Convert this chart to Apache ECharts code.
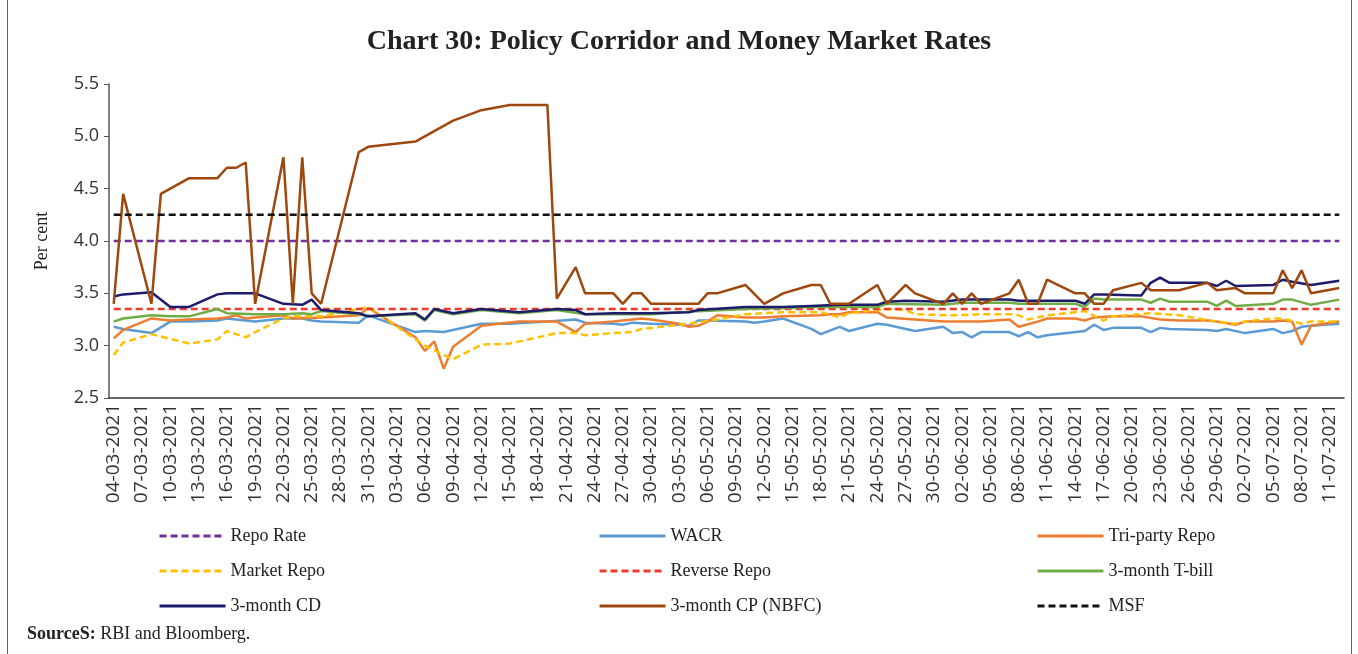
<!DOCTYPE html>
<html>
<head>
<meta charset="utf-8">
<script src="https://cdn.jsdelivr.net/npm/echarts@6/dist/echarts.min.js"></script>
<style>
  html, body { margin: 0; padding: 0; background: #fff; }
  #chart { width: 1358px; height: 654px; }
</style>
</head>
<body>
<div id="chart"></div>
<script>
// policy rates (flat over the whole period)
const repoRate = 4.0;
const reverseRepoRate = 3.35;
const msfRate = 4.25;

// daily money market rates, [dd-mm, per cent]
const wacr = [
  ['04-03', 3.18], ['05-03', 3.16], ['08-03', 3.12], ['10-03', 3.23], ['12-03', 3.23],
  ['15-03', 3.24], ['16-03', 3.26], ['17-03', 3.25], ['19-03', 3.23], ['22-03', 3.26],
  ['24-03', 3.26], ['25-03', 3.24], ['26-03', 3.23], ['30-03', 3.22], ['31-03', 3.29],
  ['05-04', 3.13], ['06-04', 3.14], ['08-04', 3.13], ['12-04', 3.21], ['15-04', 3.21],
  ['19-04', 3.23], ['22-04', 3.25], ['23-04', 3.22], ['26-04', 3.21], ['27-04', 3.20],
  ['28-04', 3.22], ['30-04', 3.21], ['03-05', 3.20], ['04-05', 3.19], ['05-05', 3.24],
  ['06-05', 3.24], ['10-05', 3.23], ['11-05', 3.22], ['12-05', 3.23], ['14-05', 3.26],
  ['17-05', 3.16], ['18-05', 3.11], ['20-05', 3.18], ['21-05', 3.14], ['24-05', 3.21],
  ['25-05', 3.20], ['28-05', 3.14], ['31-05', 3.18], ['01-06', 3.12], ['02-06', 3.13],
  ['03-06', 3.08], ['04-06', 3.13], ['07-06', 3.13], ['08-06', 3.09], ['09-06', 3.13],
  ['10-06', 3.08], ['11-06', 3.10], ['15-06', 3.14], ['16-06', 3.20], ['17-06', 3.15],
  ['18-06', 3.17], ['21-06', 3.17], ['22-06', 3.13], ['23-06', 3.17], ['24-06', 3.16],
  ['28-06', 3.15], ['29-06', 3.14], ['30-06', 3.16], ['02-07', 3.12], ['05-07', 3.16],
  ['06-07', 3.12], ['07-07', 3.14], ['08-07', 3.18], ['09-07', 3.19], ['12-07', 3.21]
];

const triParty = [
  ['04-03', 3.07], ['05-03', 3.15], ['08-03', 3.26], ['10-03', 3.24], ['12-03', 3.25],
  ['15-03', 3.26], ['16-03', 3.27], ['17-03', 3.29], ['18-03', 3.26], ['19-03', 3.27],
  ['22-03', 3.29], ['23-03', 3.26], ['26-03', 3.27], ['30-03', 3.29], ['31-03', 3.36],
  ['05-04', 3.08], ['06-04', 2.95], ['07-04', 3.04], ['08-04', 2.78], ['09-04', 2.99],
  ['12-04', 3.19], ['16-04', 3.23], ['20-04', 3.23], ['22-04', 3.13], ['23-04', 3.21],
  ['26-04', 3.23], ['29-04', 3.26], ['30-04', 3.25], ['03-05', 3.21], ['04-05', 3.18],
  ['05-05', 3.19], ['06-05', 3.23], ['07-05', 3.29], ['10-05', 3.27], ['12-05', 3.27],
  ['14-05', 3.28], ['18-05', 3.29], ['19-05', 3.30], ['20-05', 3.30], ['21-05', 3.32],
  ['24-05', 3.32], ['25-05', 3.27], ['31-05', 3.23], ['04-06', 3.23], ['07-06', 3.25],
  ['08-06', 3.18], ['10-06', 3.23], ['11-06', 3.26], ['14-06', 3.26], ['15-06', 3.24],
  ['16-06', 3.27], ['18-06', 3.28], ['21-06', 3.28], ['23-06', 3.25], ['25-06', 3.24],
  ['28-06', 3.24], ['29-06', 3.23], ['01-07', 3.20], ['02-07', 3.23], ['05-07', 3.23],
  ['06-07', 3.24], ['07-07', 3.23], ['08-07', 3.01], ['09-07', 3.19], ['12-07', 3.23]
];

const marketRepo = [
  ['04-03', 2.91], ['05-03', 3.03], ['08-03', 3.11], ['12-03', 3.02], ['15-03', 3.06],
  ['16-03', 3.14], ['18-03', 3.08], ['19-03', 3.13], ['22-03', 3.26], ['23-03', 3.28],
  ['26-03', 3.28], ['30-03', 3.35], ['31-03', 3.37], ['06-04', 3.00], ['09-04', 2.87],
  ['12-04', 3.01], ['15-04', 3.02], ['20-04', 3.12], ['22-04', 3.12], ['23-04', 3.10],
  ['26-04', 3.12], ['28-04', 3.13], ['29-04', 3.16], ['04-05', 3.21], ['07-05', 3.25],
  ['10-05', 3.30], ['14-05', 3.32], ['18-05', 3.32], ['20-05', 3.27], ['21-05', 3.31],
  ['25-05', 3.35], ['27-05', 3.34], ['28-05', 3.30], ['01-06', 3.29], ['04-06', 3.30],
  ['07-06', 3.30], ['08-06', 3.29], ['09-06', 3.25], ['11-06', 3.29], ['14-06', 3.32],
  ['15-06', 3.33], ['17-06', 3.24], ['18-06', 3.28], ['22-06', 3.31], ['25-06', 3.29],
  ['29-06', 3.23], ['01-07', 3.21], ['02-07', 3.23], ['05-07', 3.26], ['06-07', 3.26],
  ['08-07', 3.21], ['09-07', 3.23], ['12-07', 3.23]
];

const tBill = [
  ['04-03', 3.23], ['05-03', 3.26], ['08-03', 3.29], ['10-03', 3.28], ['12-03', 3.28],
  ['15-03', 3.35], ['16-03', 3.31], ['19-03', 3.30], ['22-03', 3.30], ['24-03', 3.31],
  ['25-03', 3.30], ['26-03', 3.33], ['30-03', 3.30], ['31-03', 3.28], ['05-04', 3.30],
  ['06-04', 3.24], ['07-04', 3.34], ['09-04', 3.30], ['12-04', 3.34], ['16-04', 3.31],
  ['20-04', 3.34], ['23-04', 3.30], ['30-04', 3.30], ['05-05', 3.33], ['10-05', 3.35],
  ['14-05', 3.36], ['17-05', 3.37], ['20-05', 3.37], ['24-05', 3.37], ['25-05', 3.40],
  ['31-05', 3.39], ['02-06', 3.41], ['07-06', 3.41], ['08-06', 3.40], ['14-06', 3.40],
  ['15-06', 3.37], ['16-06', 3.45], ['17-06', 3.44], ['21-06', 3.44], ['22-06', 3.41],
  ['23-06', 3.45], ['24-06', 3.42], ['28-06', 3.42], ['29-06', 3.38], ['30-06', 3.43],
  ['01-07', 3.38], ['05-07', 3.40], ['06-07', 3.44], ['07-07', 3.44], ['09-07', 3.39],
  ['12-07', 3.44]
];

const cd = [
  ['04-03', 3.47], ['05-03', 3.49], ['08-03', 3.51], ['10-03', 3.37], ['12-03', 3.37],
  ['15-03', 3.49], ['16-03', 3.50], ['19-03', 3.50], ['22-03', 3.40], ['24-03', 3.39],
  ['25-03', 3.44], ['26-03', 3.34], ['30-03', 3.31], ['31-03', 3.28], ['05-04', 3.31],
  ['06-04', 3.25], ['07-04', 3.35], ['09-04', 3.31], ['12-04', 3.35], ['16-04', 3.32],
  ['20-04', 3.35], ['22-04', 3.34], ['23-04', 3.30], ['26-04', 3.31], ['30-04', 3.31],
  ['04-05', 3.32], ['05-05', 3.34], ['10-05', 3.37], ['14-05', 3.37], ['17-05', 3.38],
  ['20-05', 3.39], ['24-05', 3.39], ['25-05', 3.42], ['27-05', 3.43], ['31-05', 3.42],
  ['02-06', 3.44], ['07-06', 3.44], ['08-06', 3.43], ['10-06', 3.43], ['11-06', 3.43],
  ['14-06', 3.43], ['15-06', 3.40], ['16-06', 3.49], ['17-06', 3.49], ['21-06', 3.48],
  ['22-06', 3.60], ['23-06', 3.65], ['24-06', 3.60], ['28-06', 3.60], ['29-06', 3.57],
  ['30-06', 3.62], ['01-07', 3.57], ['05-07', 3.58], ['06-07', 3.63], ['07-07', 3.61],
  ['09-07', 3.58], ['12-07', 3.62]
];

const cpNbfc = [
  ['04-03', 3.40], ['05-03', 4.45], ['08-03', 3.40], ['09-03', 4.45], ['12-03', 4.60],
  ['15-03', 4.60], ['16-03', 4.70], ['17-03', 4.70], ['18-03', 4.75], ['19-03', 3.40],
  ['22-03', 4.80], ['23-03', 3.40], ['24-03', 4.80], ['25-03', 3.50], ['26-03', 3.40],
  ['30-03', 4.85], ['31-03', 4.90], ['05-04', 4.95], ['09-04', 5.15], ['12-04', 5.25],
  ['15-04', 5.30], ['19-04', 5.30], ['20-04', 3.45], ['22-04', 3.75], ['23-04', 3.50],
  ['26-04', 3.50], ['27-04', 3.40], ['28-04', 3.50], ['29-04', 3.50], ['30-04', 3.40],
  ['05-05', 3.40], ['06-05', 3.50], ['07-05', 3.50], ['10-05', 3.58], ['12-05', 3.40],
  ['14-05', 3.50], ['17-05', 3.58], ['18-05', 3.58], ['19-05', 3.40], ['21-05', 3.40],
  ['24-05', 3.58], ['25-05', 3.40], ['27-05', 3.58], ['28-05', 3.50], ['31-05', 3.40],
  ['01-06', 3.50], ['02-06', 3.40], ['03-06', 3.50], ['04-06', 3.40], ['07-06', 3.50],
  ['08-06', 3.63], ['09-06', 3.40], ['10-06', 3.40], ['11-06', 3.63], ['14-06', 3.50],
  ['15-06', 3.50], ['16-06', 3.40], ['17-06', 3.40], ['18-06', 3.53], ['21-06', 3.60],
  ['22-06', 3.53], ['25-06', 3.53], ['28-06', 3.60], ['29-06', 3.53], ['01-07', 3.55],
  ['02-07', 3.50], ['05-07', 3.50], ['06-07', 3.72], ['07-07', 3.55], ['08-07', 3.72],
  ['09-07', 3.50], ['12-07', 3.55]
];

// one category per calendar day, 04-03-2021 to 12-07-2021
const dates = [];
for (let t = Date.UTC(2021, 2, 4); t <= Date.UTC(2021, 6, 12); t += 86400000) {
  const d = new Date(t);
  const dd = String(d.getUTCDate()).padStart(2, '0');
  const mm = String(d.getUTCMonth() + 1).padStart(2, '0');
  dates.push(dd + '-' + mm + '-2021');
}

const toPoints = (arr) => arr.map((p) => [p[0] + '-2021', p[1]]);
const flat = (v) => dates.map((d) => [d, v]);

const serif = 'Liberation Serif';
const sans = 'Open Sans';

function line(name, data, color, dashed) {
  return {
    name: name,
    type: 'line',
    data: data,
    symbol: 'none',
    animation: false,
    lineStyle: {
      color: color,
      width: 2.5,
      type: dashed ? [7, 4] : 'solid'
    },
    itemStyle: { color: color }
  };
}

function legendCol(left, names) {
  return {
    orient: 'vertical',
    left: left,
    top: 522,
    data: names,
    itemWidth: 66,
    itemHeight: 14,
    itemGap: 17,
    itemStyle: { opacity: 0 },
    lineStyle: { width: 3 },
    textStyle: { fontFamily: serif, fontSize: 18, color: '#222' }
  };
}

const chart = echarts.init(document.getElementById('chart'));
chart.setOption({
  backgroundColor: '#fff',
  title: {
    text: 'Chart 30: Policy Corridor and Money Market Rates',
    left: 'center',
    top: 23,
    textStyle: { fontFamily: serif, fontWeight: 'bold', fontSize: 28, color: '#222' }
  },
  grid: { left: 109, right: 14, top: 84, bottom: 256 },
  legend: [
    legendCol(153, ['Repo Rate', 'Market Repo', '3-month CD']),
    legendCol(593, ['WACR', 'Reverse Repo', '3-month CP (NBFC)']),
    legendCol(1031, ['Tri-party Repo', '3-month T-bill', 'MSF'])
  ],
  xAxis: {
    type: 'category',
    data: dates,
    boundaryGap: true,
    axisLine: { lineStyle: { color: '#333', width: 1.5 } },
    axisTick: { interval: 2, length: 5, lineStyle: { color: '#333' } },
    axisLabel: {
      interval: 2,
      rotate: 90,
      margin: 6,
      fontFamily: sans,
      fontSize: 19,
      color: '#333'
    },
    splitLine: { show: false }
  },
  yAxis: {
    type: 'value',
    min: 2.5,
    max: 5.5,
    interval: 0.5,
    name: 'Per cent',
    nameLocation: 'middle',
    nameGap: 58,
    nameTextStyle: { fontFamily: serif, fontSize: 18, color: '#222' },
    axisLine: { show: true, lineStyle: { color: '#555', width: 1.5 } },
    axisTick: { show: true, length: 5, lineStyle: { color: '#555' } },
    axisLabel: {
      margin: 10,
      fontFamily: sans,
      fontSize: 18,
      color: '#333',
      formatter: (v) => v.toFixed(1)
    },
    splitLine: { show: false }
  },
  series: [
    line('Repo Rate', flat(repoRate), '#7030A0', true),
    line('WACR', toPoints(wacr), '#5B9BD5', false),
    line('Tri-party Repo', toPoints(triParty), '#ED7D31', false),
    line('Market Repo', toPoints(marketRepo), '#FFC000', true),
    line('Reverse Repo', flat(reverseRepoRate), '#EE3B2B', true),
    line('3-month T-bill', toPoints(tBill), '#70AD47', false),
    line('3-month CD', toPoints(cd), '#1C1C6B', false),
    line('3-month CP (NBFC)', toPoints(cpNbfc), '#9E480E', false),
    line('MSF', flat(msfRate), '#111111', true)
  ],
  graphic: [
    {
      type: 'text',
      left: 27,
      top: 625,
      style: {
        text: '{b|SourceS:} RBI and Bloomberg.',
        rich: {
          b: { fontFamily: serif, fontWeight: 'bold', fontSize: 18, fill: '#222' }
        },
        fontFamily: serif,
        fontSize: 18,
        fill: '#222'
      }
    },
    { type: 'line', shape: { x1: 7.5, y1: 0, x2: 7.5, y2: 654 }, style: { stroke: '#666', lineWidth: 1 } },
    { type: 'line', shape: { x1: 1351.5, y1: 0, x2: 1351.5, y2: 654 }, style: { stroke: '#666', lineWidth: 1 } }
  ]
});
</script>
</body>
</html>
